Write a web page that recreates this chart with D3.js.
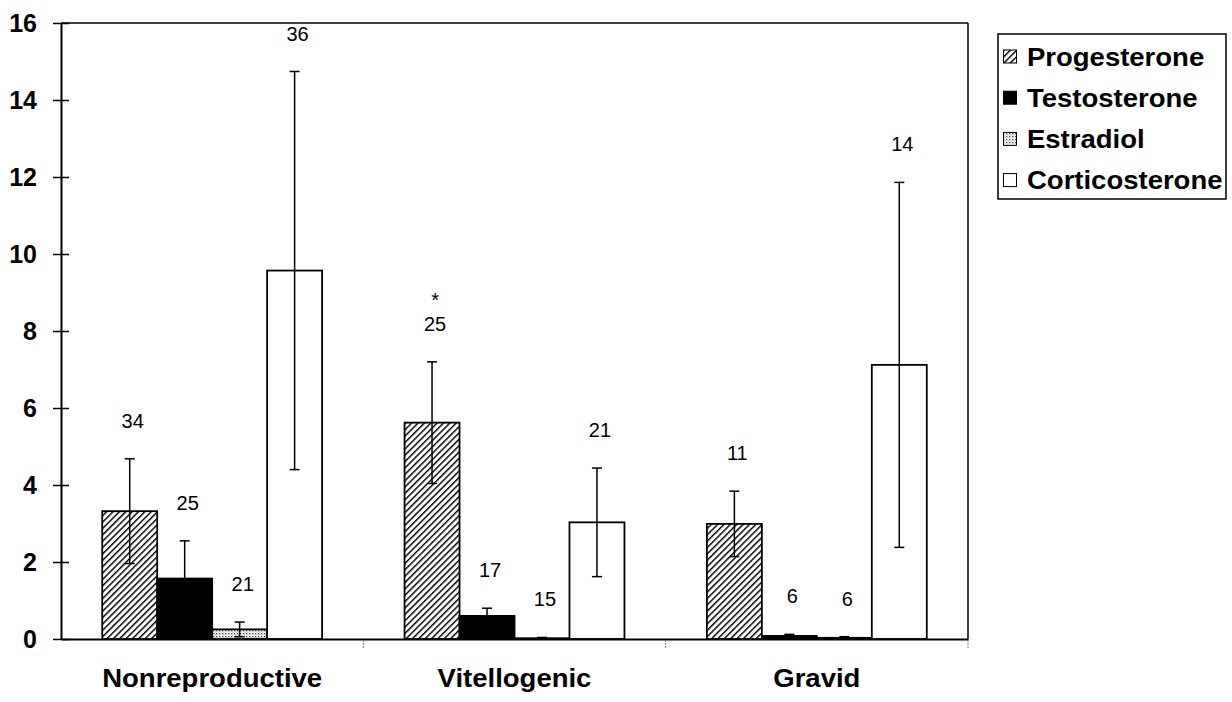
<!DOCTYPE html>
<html>
<head>
<meta charset="utf-8">
<script src="https://cdn.jsdelivr.net/npm/d3@7"></script>
<style>
  html, body { margin: 0; padding: 0; background: #fff; }
  svg { display: block; }
</style>
</head>
<body>
<script>
// ---- data ----
const categories = ["Nonreproductive", "Vitellogenic", "Gravid"];
const series = ["Progesterone", "Testosterone", "Estradiol", "Corticosterone"];
const progesterone   = [3.32, 5.62, 2.99];
const testosterone   = [1.57, 0.60, 0.08];
const estradiol      = [0.25, 0.02, 0.03];
const corticosterone = [9.57, 3.03, 7.12];
const progesteroneSE   = [1.36, 1.58, 0.85];
const testosteroneSE   = [0.98, 0.20, 0.04];
const estradiolSE      = [0.19, 0.02, 0.03];
const corticosteroneSE = [5.17, 1.41, 4.74];
const progesteroneN   = [34, 25, 11];
const testosteroneN   = [25, 17, 6];
const estradiolN      = [21, 15, 6];
const corticosteroneN = [36, 21, 14];
const progesteroneSig = ["", "*", ""];
const yTicks = [0, 2, 4, 6, 8, 10, 12, 14, 16];

const means = [progesterone, testosterone, estradiol, corticosterone];
const ses = [progesteroneSE, testosteroneSE, estradiolSE, corticosteroneSE];
const ns = [progesteroneN, testosteroneN, estradiolN, corticosteroneN];
const sigs = [progesteroneSig, ["", "", ""], ["", "", ""], ["", "", ""]];

const rows = [];
categories.forEach((c, ci) => series.forEach((s, si) => {
  rows.push({cat: c, ser: s, v: means[si][ci], se: ses[si][ci], n: ns[si][ci], sig: sigs[si][ci]});
}));

// ---- layout ----
const W = 1232, H = 702;
const L = 61, R = 968, T = 23, B = 639;
const FONT = "'Liberation Sans', Arial, Helvetica, sans-serif";

const svg = d3.select("body").append("svg").attr("width", W).attr("height", H);

const defs = svg.append("defs");
const hatch = defs.append("pattern").attr("id", "hatch")
  .attr("patternUnits", "userSpaceOnUse").attr("width", 4.5).attr("height", 4.5)
  .attr("patternTransform", "rotate(45)");
hatch.append("rect").attr("width", 4.5).attr("height", 4.5).attr("fill", "#fff");
hatch.append("line").attr("x1", 0).attr("y1", 0).attr("x2", 0).attr("y2", 4.5)
  .attr("stroke", "#000").attr("stroke-width", 2.9);

const dots = defs.append("pattern").attr("id", "dots")
  .attr("patternUnits", "userSpaceOnUse").attr("width", 3).attr("height", 3);
dots.append("rect").attr("width", 3).attr("height", 3).attr("fill", "#fff");
dots.append("rect").attr("x", 0).attr("y", 0).attr("width", 1.3).attr("height", 1.3).attr("fill", "#444");
dots.append("rect").attr("x", 1.5).attr("y", 1.5).attr("width", 1).attr("height", 1).attr("fill", "#888");

const fills = {
  Progesterone: "url(#hatch)",
  Testosterone: "#000",
  Estradiol: "url(#dots)",
  Corticosterone: "#fff"
};

const x = d3.scaleBand().domain(categories).range([L, R]).paddingInner(0).paddingOuter(0);
const xs = d3.scaleBand().domain(series).range([0, x.bandwidth()]).paddingInner(0).paddingOuter(0.75);
const y = d3.scaleLinear().domain([0, 16]).range([B, T]);

// frame (top & right)
svg.append("line").attr("x1", L).attr("x2", R).attr("y1", T).attr("y2", T)
  .attr("stroke", "#000").attr("stroke-width", 1.5);
svg.append("line").attr("x1", R).attr("x2", R).attr("y1", T).attr("y2", B)
  .attr("stroke", "#000").attr("stroke-width", 1.5);

// bars
const g = svg.append("g");
g.selectAll("rect.bar").data(rows).join("rect").attr("class", "bar")
  .attr("x", d => x(d.cat) + xs(d.ser))
  .attr("y", d => y(d.v))
  .attr("width", xs.bandwidth())
  .attr("height", d => y(0) - y(d.v))
  .attr("fill", d => fills[d.ser])
  .attr("stroke", "#000").attr("stroke-width", 1.8);

// error bars
const eb = g.selectAll("g.err").data(rows).join("g").attr("class", "err");
const cx = d => x(d.cat) + xs(d.ser) + xs.bandwidth() / 2;
eb.append("line")
  .attr("x1", cx).attr("x2", cx)
  .attr("y1", d => y(Math.max(0, d.v - d.se))).attr("y2", d => y(d.v + d.se))
  .attr("stroke", "#000").attr("stroke-width", 1.5);
eb.append("line")
  .attr("x1", d => cx(d) - 5).attr("x2", d => cx(d) + 5)
  .attr("y1", d => y(d.v + d.se)).attr("y2", d => y(d.v + d.se))
  .attr("stroke", "#000").attr("stroke-width", 1.5);
eb.filter(d => d.v - d.se > 0).append("line")
  .attr("x1", d => cx(d) - 5).attr("x2", d => cx(d) + 5)
  .attr("y1", d => y(d.v - d.se)).attr("y2", d => y(d.v - d.se))
  .attr("stroke", "#000").attr("stroke-width", 1.5);

// n labels
const nOff = 38;
g.selectAll("text.n").data(rows).join("text").attr("class", "n")
  .attr("x", d => cx(d) + 3)
  .attr("y", d => y(d.v + d.se) - nOff + 7)
  .attr("text-anchor", "middle")
  .attr("font-family", FONT).attr("font-size", 20)
  .text(d => d.n);
g.selectAll("text.sig").data(rows.filter(d => d.sig)).join("text").attr("class", "sig")
  .attr("x", d => cx(d) + 3)
  .attr("y", d => y(d.v + d.se) - nOff - 17)
  .attr("text-anchor", "middle")
  .attr("font-family", FONT).attr("font-size", 20)
  .text(d => d.sig);

// y axis
const yAxis = svg.append("g").attr("transform", `translate(${L},0)`)
  .call(d3.axisLeft(y).tickValues(yTicks).tickFormat(d3.format("d")).tickSize(0).tickPadding(24));
yAxis.select(".domain").attr("stroke", "#000").attr("stroke-width", 2);
yAxis.selectAll(".tick text").attr("font-family", FONT).attr("font-size", 25)
  .attr("font-weight", "bold").attr("fill", "#000");
yAxis.selectAll(".tick").append("line")
  .attr("x1", -8).attr("x2", 8).attr("stroke", "#000").attr("stroke-width", 1.5);

// x axis
const xAxis = svg.append("g").attr("transform", `translate(0,${B})`)
  .call(d3.axisBottom(x).tickSize(0).tickPadding(30));
xAxis.select(".domain").attr("stroke", "#000").attr("stroke-width", 2);
xAxis.selectAll(".tick text").attr("font-family", FONT).attr("font-size", 25)
  .attr("font-weight", "bold").attr("fill", "#000")
  .attr("dy", "0.71em")
  .each(function() {
    const t = d3.select(this);
    const xp = +t.attr("x") || 0;
    t.attr("transform", "scale(1.1,1)").attr("x", xp / 1.1);
  });
// category boundary ticks
svg.append("g").selectAll("line").data(categories.slice(1).concat([null])).join("line")
  .attr("x1", d => d ? x(d) : R).attr("x2", d => d ? x(d) : R)
  .attr("y1", B + 1).attr("y2", B + 9)
  .attr("stroke", "#777").attr("stroke-width", 1).attr("stroke-dasharray", "2,1");

// legend
const lg = svg.append("g");
lg.append("rect").attr("x", 998).attr("y", 34).attr("width", 228).attr("height", 165)
  .attr("fill", "#fff").attr("stroke", "#000").attr("stroke-width", 1.5);
const li = lg.selectAll("g.item").data(series).join("g").attr("class", "item")
  .attr("transform", (d, i) => `translate(1003,${56.5 + i * 41.2})`);
li.append("rect").attr("x", 0.5).attr("y", -6.5).attr("width", 13).attr("height", 13)
  .attr("fill", d => fills[d]).attr("stroke", "#000").attr("stroke-width", 1);
li.append("text").attr("x", 0).attr("y", 0).attr("dy", "0.36em")
  .attr("transform", "translate(24,0) scale(1.1,1)")
  .attr("font-family", FONT).attr("font-size", 25).attr("font-weight", "bold")
  .text(d => d);
</script>
</body>
</html>
